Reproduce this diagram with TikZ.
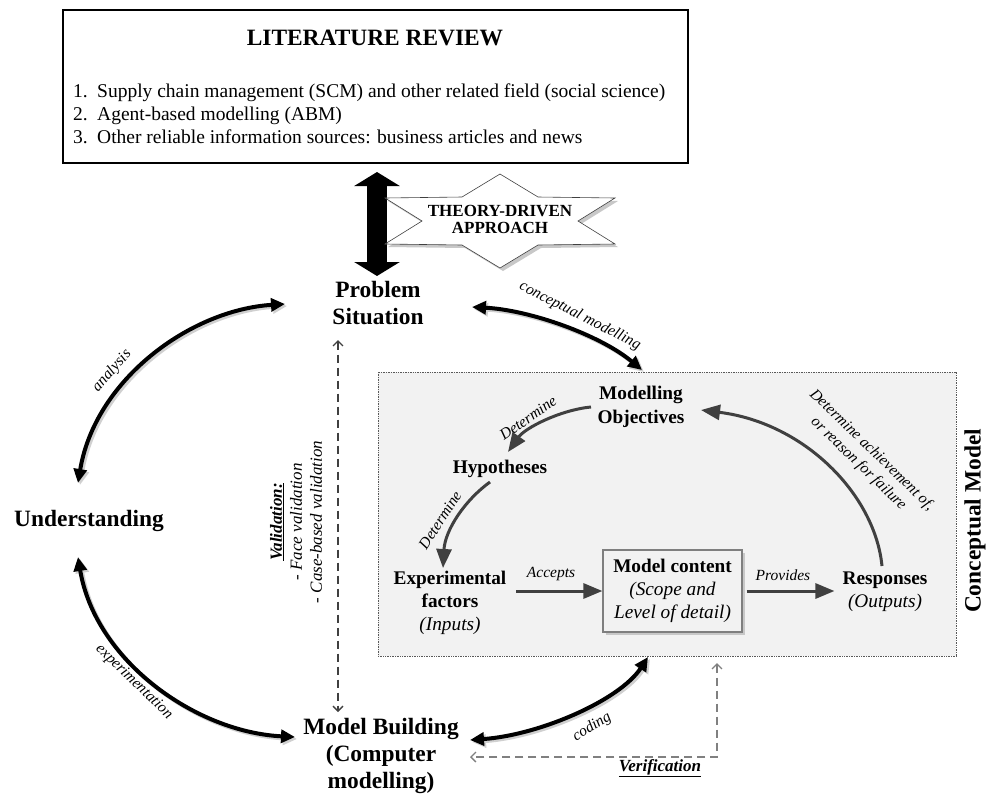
\documentclass[tikz,border=0pt]{standalone}
\usepackage{fontspec}
\setmainfont{Liberation Serif}
\usetikzlibrary{arrows.meta}
\definecolor{inarrow}{HTML}{404040}
\definecolor{boxfill}{HTML}{F2F2F2}
\definecolor{cmborder}{HTML}{595959}
\definecolor{mcborder}{HTML}{7F7F7F}
\definecolor{verifgray}{HTML}{808080}
\definecolor{shadowgray}{HTML}{C8C8C8}
\definecolor{arrowshadow}{HTML}{D0D0D0}
\begin{document}
\begin{tikzpicture}[x=1pt,y=-1pt,
  bigtxt/.style={font=\fontsize{23.4pt}{27pt}\selectfont\bfseries, align=center, inner sep=0pt},
  midtxt/.style={font=\fontsize{19.3pt}{23pt}\selectfont, align=center, inner sep=0pt},
  lbl/.style={font=\fontsize{15.5pt}{19pt}\selectfont\itshape, inner sep=0pt},
  outerarrow/.style={line width=4pt, {Triangle[length=14pt,width=13pt]}-{Triangle[length=14pt,width=13pt]}},
  outershadow/.style={outerarrow, draw=arrowshadow, transform canvas={shift={(2pt,-2pt)}}},
  innerarrow/.style={draw=inarrow, line width=3pt, -{Triangle[length=19pt,width=15pt]}},
  dasharrow/.style={line width=1.3pt, dash pattern=on 8pt off 5pt, {Straight Barb[length=5pt,width=10pt]}-{Straight Barb[length=5pt,width=10pt]}},
]
\useasboundingbox (0,0) rectangle (988,796);

% conceptual model area
\node[draw=cmborder, densely dotted, line width=0.7pt, fill=boxfill, minimum width=578pt, minimum height=284pt, inner sep=0pt] (cm) at (667,514) {};

% literature review
\node[draw, line width=2.5pt, minimum width=625pt, minimum height=153pt, inner sep=0pt] (lit) at (375.5,86.5) {};
\node[font=\fontsize{23.4pt}{27pt}\selectfont\bfseries, inner sep=0pt] (littitle) at (375,37.5) {LITERATURE REVIEW};
\node[anchor=west, align=left, font=\fontsize{19.5pt}{23pt}\selectfont, inner sep=0pt] (litlist) at (73,114)
 {\makebox[24pt][l]{1.}Supply chain management (SCM) and other related field (social science)\\
  \makebox[24pt][l]{2.}Agent-based modelling (ABM)\\
  \makebox[24pt][l]{3.}Other reliable information sources: business articles and news};

% theory-driven double arrow
\coordinate (tdA) at (377,172);
\coordinate (tdB) at (377,276);
\draw[line width=20pt, {Triangle[length=14pt,width=45pt]}-{Triangle[length=14pt,width=45pt]}] (tdA) -- (tdB);

% star
\begin{scope}[shift={(3,3)}]
\fill[shadowgray] (500,174) -- (538,197) -- (615,198) -- (578,221) -- (615,244) -- (538,245) -- (500,268) -- (462,245) -- (385,244) -- (422,221) -- (385,198) -- (462,197) -- cycle;
\end{scope}
\draw[fill=white, draw=inarrow, line width=0.6pt] (500,174) -- (538,197) -- (615,198) -- (578,221) -- (615,244) -- (538,245) -- (500,268) -- (462,245) -- (385,244) -- (422,221) -- (385,198) -- (462,197) -- cycle;
\node[font=\fontsize{17pt}{17pt}\selectfont\bfseries, align=center, inner sep=0pt] (theory) at (500,219) {THEORY-DRIVEN\\APPROACH};

% main nodes
\node[bigtxt] (ps) at (378,303) {Problem\\Situation};
\node[bigtxt] (und) at (89,521) {Understanding};
\node[bigtxt] (mb) at (381,756) {Model Building\\(Computer\\modelling)};
\node[bigtxt, rotate=90] (cmlabel) at (975,521) {Conceptual Model};

% conceptual model nodes
\node[midtxt, font=\fontsize{19.3pt}{23.5pt}\selectfont\bfseries] (mo) at (641,407) {Modelling\\Objectives};
\node[midtxt, font=\fontsize{19.3pt}{23pt}\selectfont\bfseries] (hyp) at (500,469) {Hypotheses};
\node[midtxt] (ef) at (450,603) {\textbf{Experimental}\\\textbf{factors}\\\textit{(Inputs)}};
\fill[shadowgray] (606,553) rectangle (745,635);
\node[draw=mcborder, line width=1.2pt, fill=boxfill, minimum width=139pt, minimum height=82pt, inner sep=0pt, align=center, font=\fontsize{19.3pt}{23pt}\selectfont] (mc) at (672.5,591) {\textbf{Model content}\\\textit{(Scope and}\\\textit{Level of detail)}};
\node[midtxt] (resp) at (885,592) {\textbf{Responses}\\\textit{(Outputs)}};

% arrow end coordinates
\coordinate (anA) at (78,483);
\coordinate (anB) at (285,304);
\coordinate (exA) at (78,557);
\coordinate (exB) at (295,737);
\coordinate (cpA) at (472,307);
\coordinate (cpB) at (642,370);
\coordinate (coA) at (470,740);
\coordinate (coB) at (648,657);
\coordinate (d1A) at (591,407);
\coordinate (d1B) at (508,452);
\coordinate (d2A) at (490,482);
\coordinate (d2B) at (443,568);
\coordinate (acA) at (882,566);
\coordinate (acB) at (701,410);
\coordinate (vaA) at (338,340);
\coordinate (vaB) at (338,712);
\coordinate (veA) at (717,663);
\coordinate (veB) at (470,757);

% outer cycle arrows (soft shadows first)
\draw[outershadow] (anA) .. controls (95,380) and (190,310) .. (anB);
\draw[outershadow] (exA) .. controls (95,660) and (195,732) .. (exB);
\draw[outershadow] (cpA) .. controls (530,310) and (600,335) .. (cpB);
\draw[outershadow] (coA) .. controls (540,735) and (620,700) .. (coB);
\draw[outerarrow] (anA) .. controls (95,380) and (190,310) .. (anB);
\draw[outerarrow] (exA) .. controls (95,660) and (195,732) .. (exB);
\draw[outerarrow] (cpA) .. controls (530,310) and (600,335) .. (cpB);
\draw[outerarrow] (coA) .. controls (540,735) and (620,700) .. (coB);

% inner arrows
\draw[innerarrow] (d1A) .. controls (560,410) and (525,428) .. (d1B);
\draw[innerarrow] (d2A) .. controls (465,500) and (445,530) .. (d2B);
\draw[innerarrow] (acA) .. controls (875,495) and (805,423) .. (acB);
\draw[innerarrow, shorten <=10pt] (ef.east |- mc.west) -- (mc.west);
\draw[innerarrow, shorten <=4pt, shorten >=8pt] (mc.east) -- (resp.west |- mc.east);

% validation / verification
\draw[dasharrow, draw=inarrow] (vaA) -- (vaB);
\draw[dasharrow, draw=verifgray] (veA) |- (veB);

% labels
\node[lbl, rotate=49] (lanalysis) at (112,371) {analysis};
\node[lbl, rotate=-44] (lexp) at (134,682) {experimentation};
\node[lbl, rotate=-27] (lconc) at (580,316) {conceptual modelling};
\node[lbl, rotate=32] (lcoding) at (592,727) {coding};
\node[lbl, rotate=35] (ldet1) at (528,418) {Determine};
\node[lbl, rotate=57] (ldet2) at (440,520) {Determine};
\node[lbl] (lacc) at (551,574) {Accepts};
\node[lbl] (lprov) at (783,575) {Provides};
\node[lbl, rotate=-44, align=center] (lach) at (865,457) {Determine achievement of,\\or reason for failure};
\node[rotate=90, align=center, inner sep=0pt, font=\fontsize{17pt}{20pt}\selectfont\itshape] (lval) at (296,522)
 {\textbf{\underline{Validation:}}\\- Face validation\\- Case-based validation};
\node[inner sep=0pt, font=\fontsize{17pt}{20pt}\selectfont\bfseries\itshape] (lver) at (660,768) {\underline{Verification}};
\end{tikzpicture}
\end{document}
